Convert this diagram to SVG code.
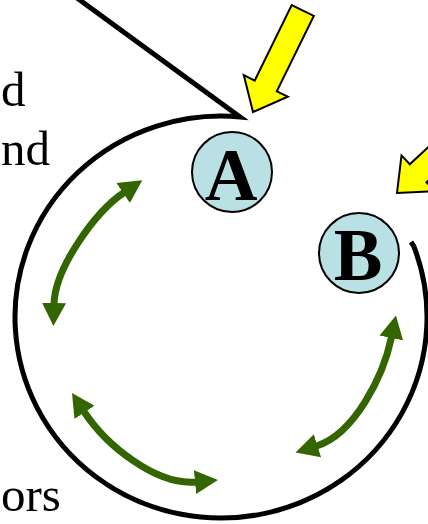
<svg xmlns="http://www.w3.org/2000/svg" width="428" height="524" viewBox="0 0 428 524">
<style>
.lbl{font-family:"Liberation Serif","Times New Roman",serif;font-size:49px;fill:#000}
.node circle{fill:#B9E0E3;stroke:#000;stroke-width:2}
.node text{font-family:"Liberation Serif","Times New Roman",serif;font-weight:bold;font-size:73px;text-anchor:middle;fill:#000}
.yarrow{fill:#FFFF00;stroke:#000;stroke-width:2;stroke-linejoin:miter}
.garrow{fill:none;stroke:#336600;stroke-width:7;marker-start:url(#gh);marker-end:url(#gh)}
.cycle{fill:none;stroke:#000;stroke-width:5;stroke-linejoin:miter}
</style>
<defs>
<marker id="gh" viewBox="0 -13 24 26" markerUnits="userSpaceOnUse" markerWidth="24" markerHeight="26" refX="1" refY="0" orient="auto-start-reverse">
<path d="M0,-12 L23,0 L0,12 Z" fill="#336600"/>
</marker>
</defs>
<text class="lbl" x="1" y="106">d</text>
<text class="lbl" x="1" y="165">nd</text>
<text class="lbl" x="1" y="511">ors</text>
<g id="connectors">
<path class="cycle" d="M77,-2 L240,116.9 A206,201 0 1 0 413.7,246 L411,242"/>
<path class="garrow" d="M54,304 C55,268 95,212 124,192.5"/>
<path class="garrow" d="M84,411.5 C105.8,445 156,485.8 196,482"/>
<path class="garrow" d="M316.5,446 C354.5,434 383.5,376 391.5,337"/>
<polygon class="yarrow" points="253,112 243.8,75.2 254.7,80.6 291.7,5.1 313.8,15.9 276.8,91.4 287.8,96.7"/>
<polygon class="yarrow" points="397,193 401.5,155.4 409.8,164.3 471.1,107.2 487.9,125.1 426.5,182.3 434.8,191.2"/>
</g>
<g id="nodeA" class="node">
<circle cx="232" cy="172" r="40"/>
<text x="231" y="200">A</text>
</g>
<g id="nodeB" class="node">
<circle cx="359" cy="253" r="40"/>
<text x="358" y="280">B</text>
</g>
</svg>
